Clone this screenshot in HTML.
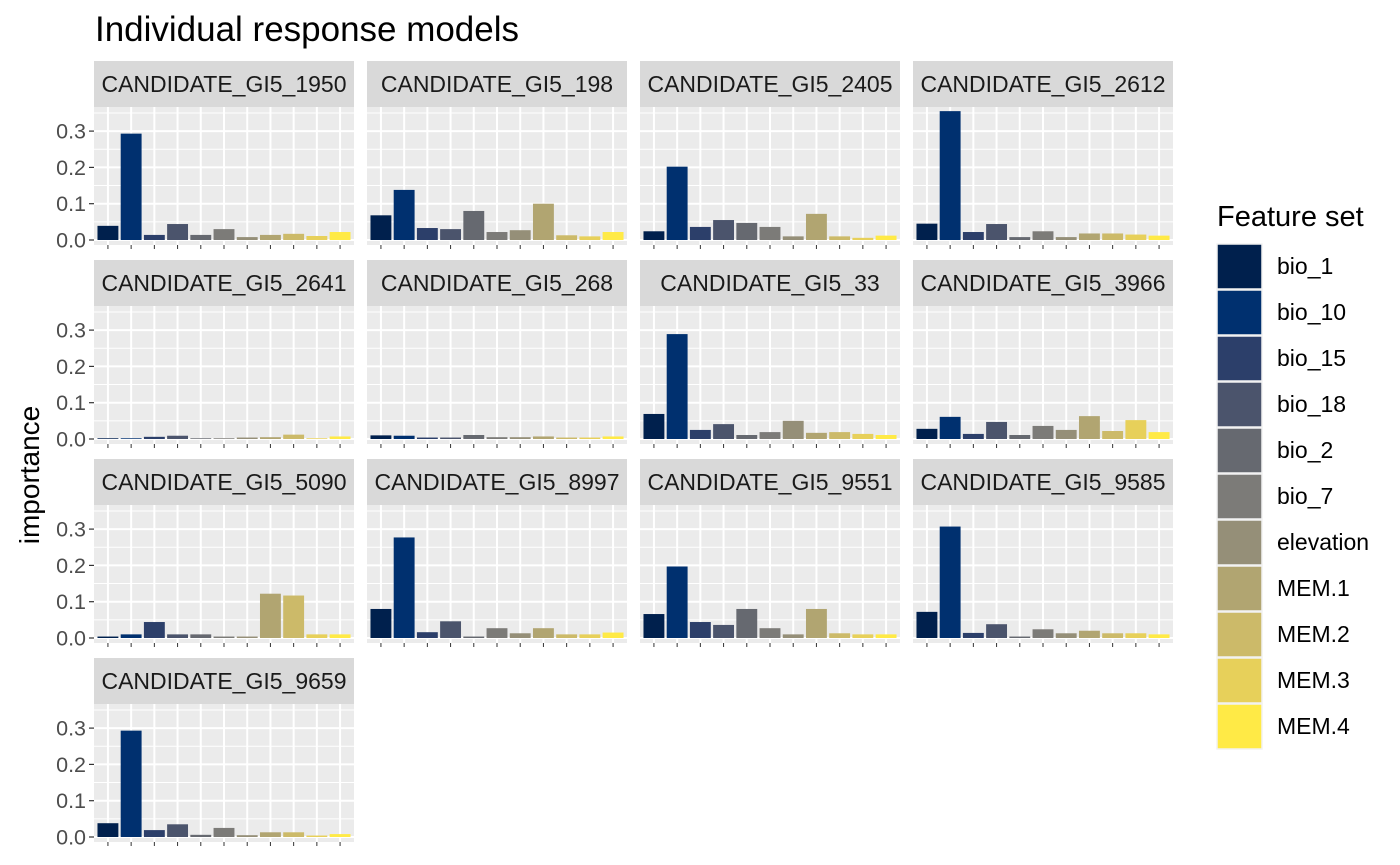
<!DOCTYPE html>
<html><head><meta charset="utf-8"><style>
body{margin:0;background:#fff;}
svg{display:block;font-family:"Liberation Sans",Arial,sans-serif;}
</style></head><body>
<svg id="chart" width="1400" height="865">
<text x="95" y="41" font-size="35" fill="#000" textLength="424" lengthAdjust="spacingAndGlyphs">Individual response models</text>
<text transform="translate(39,475) rotate(-90)" text-anchor="middle" font-size="28" fill="#000">importance</text>
<g id="panels"></g>
<g id="legend">
<text x="1217" y="226" font-size="29" fill="#000">Feature set</text>
</g>
</svg>
<script>
const features = ["bio_1","bio_10","bio_15","bio_18","bio_2","bio_7","elevation","MEM.1","MEM.2","MEM.3","MEM.4"];
const colors = ["#00204D","#00306F","#2C3F6A","#4B546C","#666970","#7C7B78","#958F78","#B1A571","#CCBA69","#E7D05A","#FFEA46"];
const panelNames = ["CANDIDATE_GI5_1950","CANDIDATE_GI5_198","CANDIDATE_GI5_2405","CANDIDATE_GI5_2612","CANDIDATE_GI5_2641","CANDIDATE_GI5_268","CANDIDATE_GI5_33","CANDIDATE_GI5_3966","CANDIDATE_GI5_5090","CANDIDATE_GI5_8997","CANDIDATE_GI5_9551","CANDIDATE_GI5_9585","CANDIDATE_GI5_9659"];
const v1950 = [0.039,0.293,0.014,0.044,0.014,0.030,0.008,0.014,0.017,0.011,0.022];
const v198 = [0.068,0.138,0.033,0.030,0.080,0.022,0.027,0.100,0.013,0.010,0.022];
const v2405 = [0.024,0.202,0.036,0.055,0.047,0.036,0.010,0.072,0.010,0.006,0.012];
const v2612 = [0.045,0.355,0.022,0.044,0.008,0.024,0.008,0.018,0.018,0.015,0.012];
const v2641 = [0.002,0.002,0.006,0.009,0.002,0.002,0.004,0.005,0.012,0.002,0.007];
const v268 = [0.010,0.009,0.004,0.004,0.011,0.005,0.005,0.007,0.004,0.004,0.007];
const v33 = [0.069,0.289,0.025,0.041,0.011,0.019,0.050,0.017,0.019,0.014,0.011];
const v3966 = [0.028,0.061,0.014,0.047,0.011,0.036,0.025,0.063,0.022,0.052,0.019];
const v5090 = [0.004,0.010,0.044,0.010,0.010,0.004,0.004,0.122,0.117,0.010,0.010];
const v8997 = [0.080,0.277,0.016,0.046,0.004,0.027,0.013,0.027,0.010,0.010,0.015];
const v9551 = [0.066,0.197,0.044,0.036,0.080,0.027,0.010,0.080,0.013,0.010,0.010];
const v9585 = [0.072,0.307,0.014,0.038,0.004,0.024,0.013,0.020,0.013,0.013,0.010];
const v9659 = [0.038,0.293,0.019,0.035,0.006,0.025,0.005,0.013,0.013,0.004,0.008];
const yTicks = [0,0.1,0.2,0.3];
const yTickLabels = ["0.0","0.1","0.2","0.3"];

const panelValues = [v1950,v198,v2405,v2612,v2641,v268,v33,v3966,v5090,v8997,v9551,v9585,v9659];
const NS="http://www.w3.org/2000/svg";
function mk(tag,attrs,parent){const e=document.createElementNS(NS,tag);for(const k in attrs)e.setAttribute(k,attrs[k]);parent.appendChild(e);return e;}
const panels=document.getElementById('panels');
const PW=260, PH=138, SH=46, X0=94, Y0=61, DX=273, DY=199;
const pxPerUnit = 363;
for(let i=0;i<panelNames.length;i++){
  const col=i%4,row=Math.floor(i/4);
  const px=X0+col*DX, sy=Y0+row*DY, py=sy+SH;
  const zeroY=py+PH-5;
  const yS=v=>zeroY-v*pxPerUnit;
  const bw=PW/11.2;
  const xS=k=>px+(k+0.6)*bw;
  const g=mk('g',{},panels);
  
  
  const strip=mk('rect',{x:px,y:sy,width:PW,height:SH,fill:'#D9D9D9'},g);
  
  
  const st=mk('text',{x:px+PW/2,y:sy+31,'text-anchor':'middle','font-size':'23',fill:'#1A1A1A'},g);
  st.textContent=panelNames[i];
  
  
  const bg=mk('rect',{x:px,y:py,width:PW,height:PH,fill:'#EBEBEB'},g);
  
  
  for(let t=0.05;t<0.37;t+=0.1){const y=yS(t);if(y>py)mk('line',{x1:px,x2:px+PW,y1:y,y2:y,stroke:'#fff','stroke-width':1},g);}
  for(let t=0;t<yTicks.length;t++){const y=yS(yTicks[t]);mk('line',{x1:px,x2:px+PW,y1:y,y2:y,stroke:'#fff','stroke-width':2},g);}
  for(let k=0;k<11;k++){const x=xS(k);mk('line',{x1:x,x2:x,y1:py,y2:py+PH,stroke:'#fff','stroke-width':2},g);}
  const vals=panelValues[i];
  for(let k=0;k<vals.length;k++){
    const w=bw*0.9, h=vals[k]*pxPerUnit;
    const r=mk('rect',{x:xS(k)-w/2,y:yS(vals[k]),width:w,height:Math.max(h,0.5),fill:colors[k]},g);
    
    
  }
  for(let k=0;k<11;k++){const x=xS(k);mk('line',{x1:x,x2:x,y1:py+PH,y2:py+PH+4,stroke:'#333','stroke-width':1},g);}
  if(col===0){
    for(let t=0;t<yTicks.length;t++){
      const y=yS(yTicks[t]);
      mk('line',{x1:px-5,x2:px,y1:y,y2:y,stroke:'#333','stroke-width':1.2},g);
      const tl=mk('text',{x:px-8,y:y+7.5,'text-anchor':'end','font-size':'21.5',fill:'#4D4D4D'},g);
      tl.textContent=yTickLabels[t];
      
      
    }
  }
}
const lg=document.getElementById('legend');
for(let k=0;k<features.length;k++){
  const y=244+k*46;
  const r=mk('rect',{x:1217,y:y,width:45,height:45,fill:colors[k],stroke:'#F2F2F2','stroke-width':1.5},lg);
  
  
  const t=mk('text',{x:1277,y:y+30,'font-size':'23',fill:'#000'},lg);
  t.textContent=features[k];
  
  
}
</script>
</body></html>
